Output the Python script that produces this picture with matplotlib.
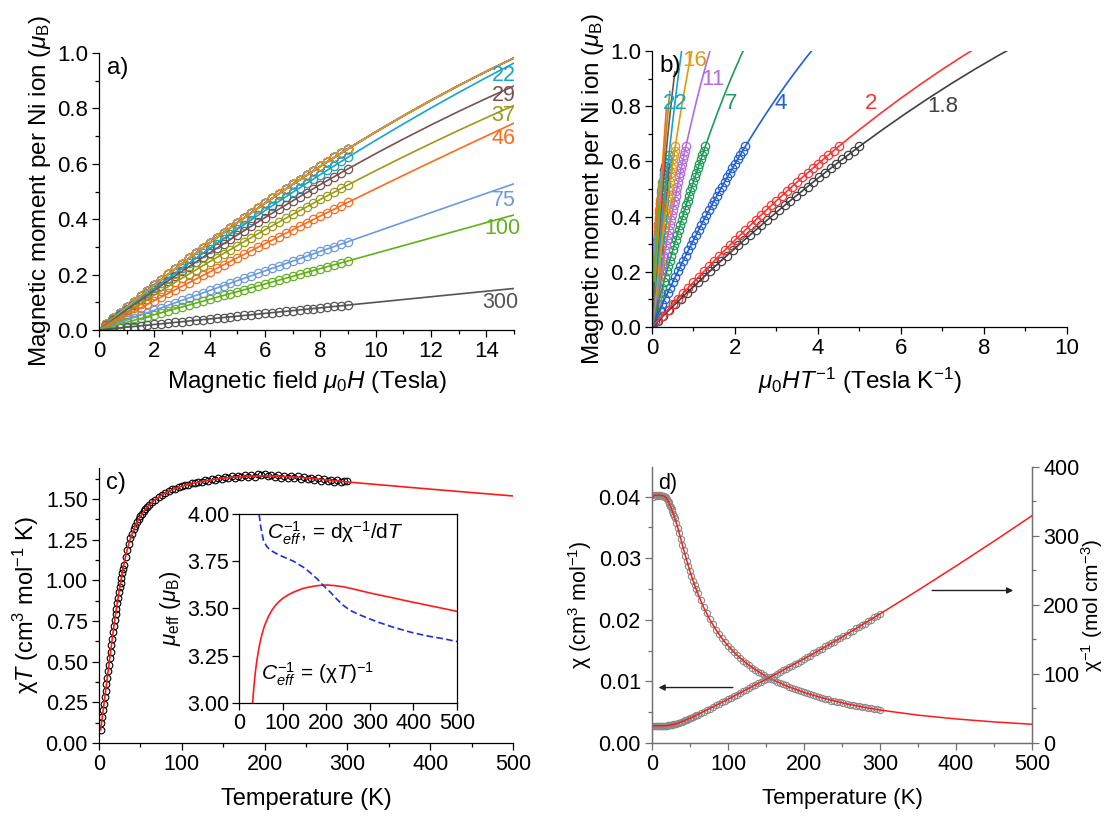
import matplotlib
matplotlib.use('Agg')
import matplotlib.pyplot as plt
import numpy as np
from matplotlib.ticker import MultipleLocator, FormatStrFormatter

plt.rcParams['font.family'] = ['Liberation Sans', 'DejaVu Sans']
plt.rcParams['mathtext.fontset'] = 'custom'
plt.rcParams['mathtext.rm'] = 'Liberation Sans'
plt.rcParams['mathtext.it'] = 'Liberation Sans:italic'
plt.rcParams['mathtext.bf'] = 'Liberation Sans:bold'

# ---- a) / b) magnetisation, field grid of the measured points (T)
H_DATA = [0.25, 0.5, 0.75, 1.0, 1.25, 1.5, 1.75, 2.0, 2.25, 2.5, 2.75, 3.0,
          3.25, 3.5, 3.75, 4.0, 4.25, 4.5, 4.75, 5.0, 5.25, 5.5, 5.75, 6.0,
          6.25, 6.5, 6.75, 7.0, 7.25, 7.5, 7.75, 8.0, 8.25, 8.5, 8.75, 9.0]
# field grid of the fitted curves (T)
H_FIT = [0, 1, 2, 3, 4, 5, 6, 7, 8, 9, 10, 11, 12, 13, 14, 15, 16]

# measured moment per Ni (mu_B); 1.8-16 K curves lie on top of each other in a)
M_LOW = [0.0208, 0.0415, 0.0619, 0.0823, 0.1025, 0.1226, 0.1424, 0.1622, 0.1818,
         0.2013, 0.2205, 0.2397, 0.2587, 0.2776, 0.2962, 0.3148, 0.3332, 0.3515,
         0.3695, 0.3875, 0.4053, 0.4230, 0.4404, 0.4578, 0.4750, 0.4921, 0.5089,
         0.5257, 0.5423, 0.5588, 0.5750, 0.5912, 0.6072, 0.6231, 0.6387, 0.6543]
M_22 = [0.0192, 0.0383, 0.0572, 0.0761, 0.0948, 0.1135, 0.1320, 0.1505, 0.1688,
        0.1871, 0.2052, 0.2232, 0.2411, 0.2589, 0.2766, 0.2942, 0.3117, 0.3291,
        0.3464, 0.3636, 0.3806, 0.3976, 0.4144, 0.4312, 0.4478, 0.4644, 0.4808,
        0.4972, 0.5134, 0.5295, 0.5455, 0.5614, 0.5772, 0.5929, 0.6085, 0.6240]
M_29 = [0.0183, 0.0365, 0.0546, 0.0726, 0.0904, 0.1081, 0.1257, 0.1432, 0.1605,
        0.1777, 0.1948, 0.2118, 0.2287, 0.2454, 0.2620, 0.2785, 0.2948, 0.3110,
        0.3271, 0.3431, 0.3590, 0.3747, 0.3903, 0.4058, 0.4212, 0.4364, 0.4515,
        0.4665, 0.4814, 0.4961, 0.5108, 0.5253, 0.5396, 0.5539, 0.5680, 0.5820]
M_37 = [0.0161, 0.0321, 0.0480, 0.0638, 0.0795, 0.0951, 0.1107, 0.1261, 0.1415,
        0.1568, 0.1720, 0.1871, 0.2022, 0.2171, 0.2320, 0.2468, 0.2614, 0.2760,
        0.2905, 0.3050, 0.3193, 0.3336, 0.3477, 0.3618, 0.3758, 0.3897, 0.4035,
        0.4173, 0.4309, 0.4445, 0.4579, 0.4713, 0.4846, 0.4978, 0.5110, 0.5240]
M_46 = [0.0133, 0.0266, 0.0399, 0.0531, 0.0663, 0.0795, 0.0927, 0.1058, 0.1189,
        0.1319, 0.1450, 0.1579, 0.1709, 0.1839, 0.1968, 0.2096, 0.2225, 0.2353,
        0.2481, 0.2609, 0.2736, 0.2863, 0.2990, 0.3116, 0.3242, 0.3368, 0.3494,
        0.3619, 0.3744, 0.3869, 0.3993, 0.4117, 0.4241, 0.4364, 0.4488, 0.4610]
M_75 = [0.0090, 0.0179, 0.0268, 0.0358, 0.0447, 0.0536, 0.0625, 0.0714, 0.0803,
        0.0893, 0.0982, 0.1070, 0.1159, 0.1248, 0.1337, 0.1426, 0.1514, 0.1603,
        0.1691, 0.1780, 0.1869, 0.1957, 0.2045, 0.2134, 0.2222, 0.2310, 0.2398,
        0.2486, 0.2574, 0.2662, 0.2750, 0.2838, 0.2926, 0.3014, 0.3102, 0.3190]
M_100 = [0.0069, 0.0139, 0.0208, 0.0277, 0.0346, 0.0416, 0.0485, 0.0554, 0.0623,
         0.0693, 0.0762, 0.0831, 0.0900, 0.0970, 0.1039, 0.1108, 0.1177, 0.1247,
         0.1316, 0.1385, 0.1454, 0.1524, 0.1593, 0.1662, 0.1731, 0.1801, 0.1870,
         0.1939, 0.2008, 0.2078, 0.2147, 0.2216, 0.2285, 0.2355, 0.2424, 0.2493]
M_300 = [0.0025, 0.0050, 0.0075, 0.0100, 0.0125, 0.0150, 0.0175, 0.0200, 0.0225,
         0.0250, 0.0275, 0.0300, 0.0325, 0.0350, 0.0375, 0.0400, 0.0425, 0.0450,
         0.0475, 0.0500, 0.0525, 0.0550, 0.0575, 0.0600, 0.0625, 0.0650, 0.0675,
         0.0700, 0.0725, 0.0750, 0.0775, 0.0800, 0.0825, 0.0850, 0.0875, 0.0900]

# fitted moment on H_FIT
FIT_LOW = [0, 0.0823, 0.1622, 0.2397, 0.3148, 0.3875, 0.4578, 0.5257, 0.5912,
           0.6543, 0.7150, 0.7733, 0.8292, 0.8827, 0.9338, 0.9825, 1.0288]
FIT_22 = [0, 0.0761, 0.1505, 0.2232, 0.2942, 0.3636, 0.4312, 0.4972, 0.5614,
          0.6240, 0.6849, 0.7441, 0.8017, 0.8575, 0.9116, 0.9641, 1.0148]
FIT_29 = [0, 0.0726, 0.1432, 0.2118, 0.2785, 0.3431, 0.4058, 0.4665, 0.5253,
          0.5820, 0.6368, 0.6896, 0.7404, 0.7893, 0.8362, 0.8811, 0.9239]
FIT_37 = [0, 0.0638, 0.1261, 0.1871, 0.2468, 0.3050, 0.3618, 0.4173, 0.4713,
          0.5240, 0.5753, 0.6252, 0.6737, 0.7209, 0.7666, 0.8110, 0.8540]
FIT_46 = [0, 0.0531, 0.1058, 0.1579, 0.2096, 0.2609, 0.3116, 0.3619, 0.4117,
          0.4610, 0.5099, 0.5583, 0.6062, 0.6536, 0.7005, 0.7471, 0.7931]
FIT_75 = [0, 0.0358, 0.0714, 0.1070, 0.1426, 0.1780, 0.2134, 0.2486, 0.2838,
          0.3190, 0.3540, 0.3890, 0.4238, 0.4586, 0.4934, 0.5280, 0.5626]
FIT_100 = [0, 0.0277, 0.0554, 0.0831, 0.1108, 0.1385, 0.1662, 0.1939, 0.2216,
           0.2493, 0.2770, 0.3047, 0.3324, 0.3601, 0.3878, 0.4155, 0.4432]
FIT_300 = [0, 0.010, 0.020, 0.030, 0.040, 0.050, 0.060, 0.070, 0.080,
           0.090, 0.100, 0.110, 0.120, 0.130, 0.140, 0.150, 0.160]

TEMPS = [1.8, 2, 4, 7, 11, 16, 22, 29, 37, 46, 75, 100, 300]
COLORS = ['#404040', '#ff3333', '#1f5fd6', '#1f9a58', '#b46ae0', '#e39a10',
          '#13a6c8', '#7b5050', '#9a9a18', '#ff6a1a', '#6c9ae0', '#62b01c', '#555555']
M_SETS = [M_LOW, M_LOW, M_LOW, M_LOW, M_LOW, M_LOW, M_22, M_29, M_37, M_46,
          M_75, M_100, M_300]
FIT_SETS = [FIT_LOW, FIT_LOW, FIT_LOW, FIT_LOW, FIT_LOW, FIT_LOW, FIT_22, FIT_29,
            FIT_37, FIT_46, FIT_75, FIT_100, FIT_300]

# ---- c) / d) susceptibility
T_DATA = [2, 3, 4, 5, 6, 7, 8, 9, 10, 11, 12, 13, 14, 15, 16, 17, 18, 19, 20,
          21, 22, 23, 24, 25, 26, 27, 28, 29, 30,
          32, 34, 36, 38, 40, 42, 44, 46, 48, 50, 52, 54, 56, 58, 60,
          64, 68, 72, 76, 80, 84, 88, 92, 96, 100,
          104, 108, 112, 116, 120, 124, 128, 132, 136, 140, 144, 148, 152, 156,
          160, 164, 168, 172, 176, 180, 184, 188, 192, 196, 200, 204, 208, 212,
          216, 220, 224, 228, 232, 236, 240, 244, 248, 252, 256, 260, 264, 268,
          272, 276, 280, 284, 288, 292, 296, 300]
CHIT_DATA = [0.080, 0.121, 0.161, 0.201, 0.241, 0.281, 0.322, 0.362, 0.402, 0.442,
             0.482, 0.522, 0.562, 0.602, 0.641, 0.680, 0.718, 0.755, 0.791, 0.826,
             0.860, 0.893, 0.925, 0.956, 0.986, 1.015, 1.043, 1.070, 1.096,
             1.144, 1.187, 1.225, 1.258, 1.287, 1.313, 1.336, 1.357, 1.376, 1.393,
             1.409, 1.424, 1.437, 1.449, 1.460,
             1.481, 1.496, 1.514, 1.524, 1.539, 1.546, 1.558, 1.563, 1.573, 1.577,
             1.585, 1.588, 1.596, 1.598, 1.605, 1.606, 1.614, 1.612, 1.621, 1.618,
             1.627, 1.622, 1.633, 1.627, 1.638, 1.630, 1.641, 1.633, 1.645, 1.636,
             1.648, 1.637, 1.650, 1.645, 1.652, 1.639, 1.648, 1.634, 1.646, 1.631,
             1.643, 1.630, 1.641, 1.626, 1.638, 1.622, 1.636, 1.620, 1.630, 1.615,
             1.627, 1.612, 1.622, 1.610, 1.619, 1.606, 1.615, 1.603, 1.611, 1.610]
T_FIT = [2, 4, 6, 8, 10, 12, 14, 16, 18, 20, 22, 24, 26, 28, 30, 32, 34, 36, 38,
         40, 44, 48, 52, 56, 60, 68, 76, 84, 92, 100, 112, 124, 136, 148, 160,
         180, 200, 220, 240, 260, 280, 300, 350, 400, 450, 500]
CHIT_FIT = [0.080, 0.161, 0.241, 0.322, 0.402, 0.482, 0.562, 0.641, 0.718, 0.791,
            0.860, 0.925, 0.986, 1.043, 1.096, 1.144, 1.187, 1.225, 1.258, 1.287,
            1.336, 1.376, 1.409, 1.437, 1.460, 1.497, 1.525, 1.547, 1.564, 1.578,
            1.594, 1.607, 1.617, 1.626, 1.632, 1.639, 1.642, 1.639, 1.633, 1.624,
            1.614, 1.604, 1.582, 1.560, 1.539, 1.518]
# inset: mu_eff from C_eff' = d(chi^-1)/dT
T_DERIV = [44, 46, 50, 56, 63, 71, 86, 100, 125, 150, 163, 180, 194, 210, 224,
           240, 255, 278, 316, 355, 393, 431, 469, 500]
MU_DERIV = [4.05, 4.00, 3.93, 3.86, 3.83, 3.81, 3.79, 3.775, 3.75, 3.715, 3.69,
            3.655, 3.62, 3.585, 3.55, 3.515, 3.49, 3.465, 3.43, 3.40, 3.375,
            3.355, 3.34, 3.325]

FS_AB = 16
FS_AB_LAB = 17.5
FS_CD = 15.5
FS_CD_LAB = 17


def style_axis(ax, fs):
    ax.tick_params(which='both', direction='out', labelsize=fs, width=0.9, pad=3)
    ax.tick_params(which='major', length=5)
    ax.tick_params(which='minor', length=3)
    for s in ax.spines.values():
        s.set_linewidth(0.9)


fig = plt.figure(figsize=(11.05, 8.16), dpi=100)

# ---------------- a)
ax_a = fig.add_axes([0.0896, 0.5956, 0.3756, 0.3394])
for T, c, m, f in zip(TEMPS, COLORS, M_SETS, FIT_SETS):
    ax_a.plot(H_DATA, m, 'o', mfc='none', mec=c, ms=6, mew=0.9)
for T, c, m, f in zip(TEMPS, COLORS, M_SETS, FIT_SETS):
    ax_a.plot(H_FIT, f, '-', color=c, lw=1.2)
ax_a.set_xlim(0, 15)
ax_a.set_ylim(0, 1.0)
ax_a.spines[['top', 'right']].set_visible(False)
ax_a.xaxis.set_major_locator(MultipleLocator(2))
ax_a.xaxis.set_minor_locator(MultipleLocator(1))
ax_a.yaxis.set_major_locator(MultipleLocator(0.2))
ax_a.yaxis.set_minor_locator(MultipleLocator(0.1))
ax_a.yaxis.set_major_formatter(FormatStrFormatter('%.1f'))
style_axis(ax_a, FS_AB)
ax_a.set_xlabel(r'Magnetic field $\mu_0H$ (Tesla)', fontsize=FS_AB_LAB, labelpad=5)
ax_a.set_ylabel(r'Magnetic moment per Ni ion ($\mu_\mathrm{B}$)', fontsize=FS_AB_LAB, labelpad=3)
ax_a.text(0.3, 0.946, 'a)', fontsize=FS_AB_LAB, va='center')
a_labels = [('22', 15.05, 0.918, 6), ('29', 15.05, 0.848, 7), ('37', 15.05, 0.774, 8),
            ('46', 15.05, 0.690, 9), ('75', 15.05, 0.466, 10), ('100', 15.25, 0.365, 11),
            ('300', 15.15, 0.101, 12)]
for txt, x, y, i in a_labels:
    ax_a.text(x, y, txt, color=COLORS[i], fontsize=FS_AB - 0.5, ha='right', va='center')

# ---------------- b)
ax_b = fig.add_axes([0.590, 0.5993, 0.3756, 0.3382])
for T, c, m, f in zip(TEMPS, COLORS, M_SETS, FIT_SETS):
    ax_b.plot(np.array(H_DATA) / T, m, 'o', mfc='none', mec=c, ms=6, mew=0.9)
for T, c, m, f in zip(TEMPS, COLORS, M_SETS, FIT_SETS):
    ax_b.plot(np.array(H_FIT) / T, f, '-', color=c, lw=1.2)
ax_b.set_xlim(0, 10)
ax_b.set_ylim(0, 1.0)
ax_b.spines[['top', 'right']].set_visible(False)
ax_b.xaxis.set_major_locator(MultipleLocator(2))
ax_b.xaxis.set_minor_locator(MultipleLocator(1))
ax_b.yaxis.set_major_locator(MultipleLocator(0.2))
ax_b.yaxis.set_minor_locator(MultipleLocator(0.1))
ax_b.yaxis.set_major_formatter(FormatStrFormatter('%.1f'))
style_axis(ax_b, FS_AB)
ax_b.set_xlabel(r'$\mu_0HT^{-1}$ (Tesla K$^{-1}$)', fontsize=FS_AB_LAB, labelpad=5)
ax_b.set_ylabel(r'Magnetic moment per Ni ion ($\mu_\mathrm{B}$)', fontsize=FS_AB_LAB, labelpad=3)
ax_b.text(0.19, 0.946, 'b)', fontsize=FS_AB_LAB, va='center')
b_labels = [('16', 1.04, 0.967, 5), ('11', 1.47, 0.895, 4), ('22', 0.55, 0.808, 6),
            ('7', 1.90, 0.808, 3), ('4', 3.11, 0.808, 2), ('2', 5.28, 0.808, 1),
            ('1.8', 7.01, 0.800, 0)]
for txt, x, y, i in b_labels:
    ax_b.text(x, y, txt, color=COLORS[i], fontsize=FS_AB, ha='center', va='center')

# ---------------- c)
ax_c = fig.add_axes([0.0896, 0.0895, 0.3747, 0.337])
ax_c.plot(T_DATA, CHIT_DATA, 'o', mfc='none', mec='black', ms=4.8, mew=0.8)
ax_c.plot(T_FIT, CHIT_FIT, '-', color='#ff1a1a', lw=1.2)
ax_c.set_xlim(0, 500)
ax_c.set_ylim(0, 1.69)
ax_c.spines[['top', 'right']].set_visible(False)
ax_c.xaxis.set_major_locator(MultipleLocator(100))
ax_c.xaxis.set_minor_locator(MultipleLocator(50))
ax_c.yaxis.set_major_locator(MultipleLocator(0.25))
ax_c.yaxis.set_minor_locator(MultipleLocator(0.125))
ax_c.yaxis.set_major_formatter(FormatStrFormatter('%.2f'))
style_axis(ax_c, FS_CD)
ax_c.set_xlabel('Temperature (K)', fontsize=FS_CD_LAB, labelpad=9)
ax_c.set_ylabel(r'χ$T$ (cm$^3$ mol$^{-1}$ K)', fontsize=FS_CD_LAB, labelpad=3)
ax_c.text(0.017, 0.945, 'c)', transform=ax_c.transAxes, fontsize=FS_CD_LAB, va='center')

# inset
ax_i = fig.add_axes([0.2163, 0.1385, 0.1973, 0.2316])
mu_fit = np.sqrt(8 * np.array(CHIT_FIT))
ax_i.plot(T_FIT, mu_fit, '-', color='#ff1a1a', lw=1.2)
ax_i.plot(T_DERIV, MU_DERIV, '--', color='#1a2ee6', lw=1.2, dashes=(4, 2))
ax_i.set_xlim(0, 500)
ax_i.set_ylim(3.0, 4.0)
ax_i.xaxis.set_major_locator(MultipleLocator(100))
ax_i.yaxis.set_major_locator(MultipleLocator(0.25))
ax_i.yaxis.set_major_formatter(FormatStrFormatter('%.2f'))
style_axis(ax_i, FS_CD)
ax_i.tick_params(pad=2)
ax_i.set_ylabel(r'$\mu_\mathrm{eff}$ ($\mu_\mathrm{B}$)', fontsize=FS_CD + 0.5, labelpad=3)
ax_i.text(0.13, 0.90, r"$C^{-1}_{eff}$, = dχ$^{-1}$/d$T$", transform=ax_i.transAxes,
          fontsize=FS_CD - 0.5, va='center')
ax_i.text(0.10, 0.15, r"$C^{-1}_{eff}$ = (χ$T$)$^{-1}$", transform=ax_i.transAxes,
          fontsize=FS_CD - 0.5, va='center')

# ---------------- d)
ax_d = fig.add_axes([0.590, 0.0895, 0.3439, 0.3382])
ax_r = ax_d.twinx()
t_data = np.array(T_DATA, dtype=float)
chit_data = np.array(CHIT_DATA)
t_fit = np.array(T_FIT, dtype=float)
chit_fit = np.array(CHIT_FIT)
ax_d.plot(t_data, chit_data / t_data, 'o', mfc='none', mec='#8a8a8a', ms=4.5, mew=0.8)
ax_r.plot(t_data, t_data / chit_data, 'o', mfc='none', mec='#8a8a8a', ms=4.5, mew=0.8)
ax_d.plot(t_fit, chit_fit / t_fit, '-', color='#ff1a1a', lw=1.1)
ax_r.plot(t_fit, t_fit / chit_fit, '-', color='#ff1a1a', lw=1.1)
ax_d.set_xlim(0, 500)
ax_d.set_ylim(0, 0.0448)
ax_r.set_ylim(0, 400)
for ax in (ax_d, ax_r):
    ax.spines['top'].set_visible(False)
    style_axis(ax, FS_CD)
    for s in ax.spines.values():
        s.set_color('#707070')
    ax.tick_params(which='both', color='#707070')
ax_d.xaxis.set_major_locator(MultipleLocator(100))
ax_d.xaxis.set_minor_locator(MultipleLocator(50))
ax_d.yaxis.set_major_locator(MultipleLocator(0.01))
ax_d.yaxis.set_minor_locator(MultipleLocator(0.005))
ax_d.yaxis.set_major_formatter(FormatStrFormatter('%.2f'))
ax_r.yaxis.set_major_locator(MultipleLocator(100))
ax_r.yaxis.set_minor_locator(MultipleLocator(50))
ax_d.set_xlabel('Temperature (K)', fontsize=FS_CD_LAB - 1, labelpad=9)
ax_d.set_ylabel(r'χ (cm$^3$ mol$^{-1}$)', fontsize=FS_CD_LAB - 1.5, labelpad=3)
ax_r.set_ylabel(r'χ$^{-1}$ (mol cm$^{-3}$)', fontsize=FS_CD_LAB - 2, labelpad=0)
ax_d.text(0.016, 0.94, 'd)', transform=ax_d.transAxes, fontsize=FS_CD, va='center')
ax_d.annotate('', xy=(5, 0.009), xytext=(110, 0.009),
              arrowprops=dict(arrowstyle='-|>', color='#202020', lw=1.0, mutation_scale=9))
ax_r.annotate('', xy=(479, 221), xytext=(365, 221),
              arrowprops=dict(arrowstyle='-|>', color='#202020', lw=1.0, mutation_scale=9))

fig.savefig('out.png', dpi=100)
